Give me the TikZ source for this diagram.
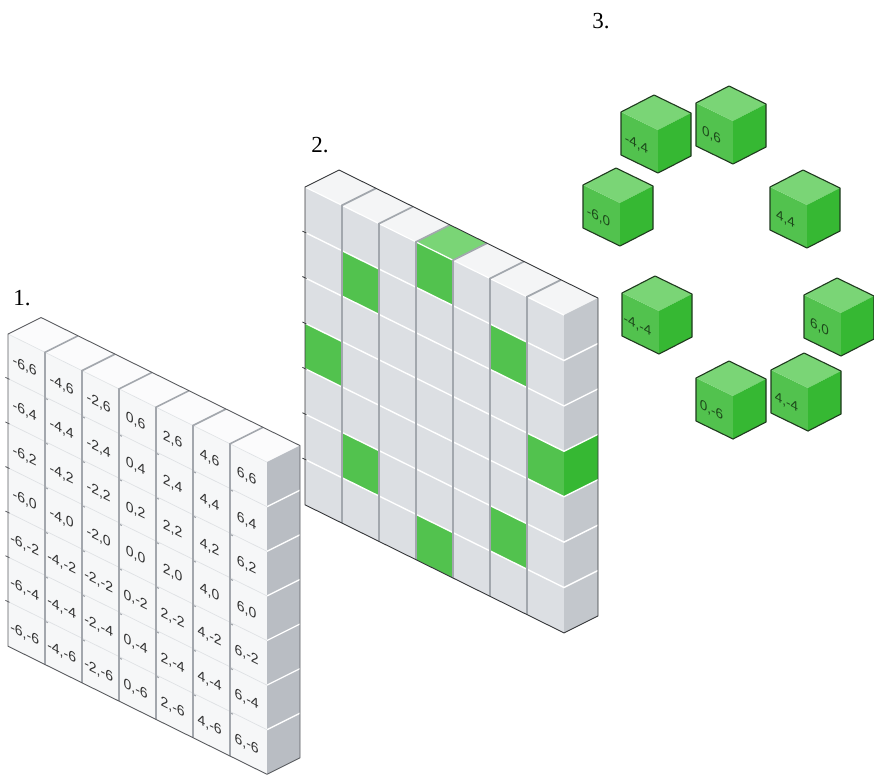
\documentclass[tikz,border=0pt]{standalone}
\usepackage{fontspec}
\setmainfont{Liberation Serif}
\newfontfamily\cubefont{Liberation Sans}
\definecolor{wfront}{HTML}{F6F7F8}
\definecolor{wtop}{HTML}{FBFBFC}
\definecolor{wside}{HTML}{B9BDC3}
\definecolor{wdiv}{HTML}{A3A7AD}
\definecolor{wrow}{HTML}{DFE2E5}
\definecolor{wout}{HTML}{5A5C60}
\definecolor{sfront}{HTML}{DCDFE3}
\definecolor{stop}{HTML}{F4F5F6}
\definecolor{sside}{HTML}{C3C7CC}
\definecolor{sdiv}{HTML}{A2A7AD}
\definecolor{sout}{HTML}{35373A}
\definecolor{gfrontc}{HTML}{52C24E}
\definecolor{gtopc}{HTML}{7AD576}
\definecolor{gsidec}{HTML}{36B833}
\definecolor{gedgec}{HTML}{1F3A1E}
\definecolor{gtext}{HTML}{1D4A1B}
\begin{document}
\begin{tikzpicture}[x=1pt,y=-1pt,
  title/.style={font=\fontsize{23}{26}\selectfont, inner sep=0pt},
  cubelabel/.style={font=\cubefont\fontsize{14}{16}\selectfont, text=black!80, inner sep=0pt, yslant=-0.494},
  greenlabel/.style={font=\cubefont\fontsize{13.5}{15}\selectfont, text=gtext, inner sep=0pt, yslant=-0.49},
  cubeframe/.style={x={(37pt,-18.3pt)}, y={(0pt,-44.6pt)}, z={(33pt,16.5pt)}},
  loneframe/.style={x={(37pt,-18pt)}, y={(0pt,-43pt)}, z={(33pt,17pt)}}]
\path[use as bounding box] (0,0) rectangle (874,777);

% ---------- 1. labelled grid of white cubes ----------
\begin{scope}[shift={(8,334)}, cubeframe]
  \foreach \c in {0,...,6}{
    \fill[wtop] (\c,0,0) -- (\c+1,0,0) -- (\c+1,0,1) -- (\c,0,1) -- cycle;
    \fill[wfront] (\c,0,0) -- (\c+1,0,0) -- (\c+1,7,0) -- (\c,7,0) -- cycle;
  }
  \fill[wside] (7,0,0) -- (7,0,1) -- (7,7,1) -- (7,7,0) -- cycle;
  \foreach \r in {1,...,6}{
    \draw[white, line width=1.3pt] (7,\r,0) -- (7,\r,1);
    \draw[wrow, line width=0.7pt] (0,\r,0) -- (7,\r,0);
    \draw[wout, line width=0.8pt] (-0.07,\r,0) -- (0.04,\r,0);
  }
  \draw[wrow, line width=0.6pt] (0,0,0) -- (7,0,0);
  \foreach \c in {1,...,6}{
    \draw[wdiv, line width=1.6pt] (\c,0,1) -- (\c,0,0) -- (\c,7,0);
    \foreach \r in {1,...,6}
      \draw[wdiv, line width=1.1pt] (\c,\r+0.03,0) -- (\c+0.08,\r+0.03,0);
  }
  \draw[wout, line width=0.9pt, line join=round]
    (0,0,0) -- (0,0,1) -- (7,0,1) -- (7,7,1) -- (7,7,0) -- (0,7,0) -- cycle;
  \foreach \c in {0,...,6}
    \foreach \r in {0,...,6}{
      \pgfmathtruncatemacro\xv{2*\c-6}
      \pgfmathtruncatemacro\yv{6-2*\r}
      \node[cubelabel] (w-\c-\r) at (\c+0.45,\r+0.55,0) {\xv,\yv};
    }
\end{scope}

% ---------- 2. grid with the selected cubes in green ----------
\begin{scope}[shift={(305,187)}, cubeframe, y={(0pt,-45.4pt)}, z={(34pt,17pt)}]
  \foreach \c in {0,...,6}{
    \fill[stop] (\c,0,0) -- (\c+1,0,0) -- (\c+1,0,1) -- (\c,0,1) -- cycle;
    \fill[sfront] (\c,0,0) -- (\c+1,0,0) -- (\c+1,7,0) -- (\c,7,0) -- cycle;
  }
  \fill[sside] (7,0,0) -- (7,0,1) -- (7,7,1) -- (7,7,0) -- cycle;
  \foreach \c/\r in {3/0,1/1,5/1,0/3,6/3,1/5,5/5,3/6}
    \fill[gfrontc] (\c,\r,0) -- (\c+1,\r,0) -- (\c+1,\r+1,0) -- (\c,\r+1,0) -- cycle;
  \fill[gtopc] (3,0,0) -- (4,0,0) -- (4,0,1) -- (3,0,1) -- cycle;
  \fill[gsidec] (7,3,0) -- (7,3,1) -- (7,4,1) -- (7,4,0) -- cycle;
  \foreach \r in {1,...,6}{
    \draw[white, line width=1.4pt] (0,\r,0) -- (7,\r,0) -- (7,\r,1);
    \draw[sout, line width=0.8pt] (-0.07,\r,0) -- (0.04,\r,0);
  }
  \draw[white, line width=1.2pt] (0,0,0) -- (7,0,0);
  \foreach \c in {1,...,6}
    \draw[sdiv, line width=1.7pt] (\c,0,1) -- (\c,0,0) -- (\c,7,0);
  \draw[sout, line width=0.9pt, line join=round]
    (0,0,0) -- (0,0,1) -- (7,0,1) -- (7,7,1) -- (7,7,0) -- (0,7,0) -- cycle;
\end{scope}

% ---------- 3. the green cubes on their own ----------
\foreach \px/\py/\a/\b [count=\i] in {621/112/-4/4, 696/103/0/6, 583/185/-6/0,
    770/187/4/4, 622/293/-4/-4, 804/295/6/0, 696/378/0/-6, 771/370/4/-4}{
  \begin{scope}[shift={(\px,\py)}, loneframe]
    \fill[gfrontc] (0,0,0) -- (1,0,0) -- (1,1,0) -- (0,1,0) -- cycle;
    \fill[gtopc] (0,0,0) -- (1,0,0) -- (1,0,1) -- (0,0,1) -- cycle;
    \fill[gsidec] (1,0,0) -- (1,0,1) -- (1,1,1) -- (1,1,0) -- cycle;
    \draw[gedgec, line width=1.1pt, line join=round]
      (0,0,0) -- (0,0,1) -- (1,0,1) -- (1,1,1) -- (1,1,0) -- (0,1,0) -- cycle;
    \node[greenlabel] (g\i) at (0.42,0.58,0) {\a,\b};
  \end{scope}
}

% ---------- step numbers ----------
\node[title] (t1) at (22,298) {1.};
\node[title] (t2) at (320,145) {2.};
\node[title] (t3) at (601,21) {3.};
\end{tikzpicture}
\end{document}
